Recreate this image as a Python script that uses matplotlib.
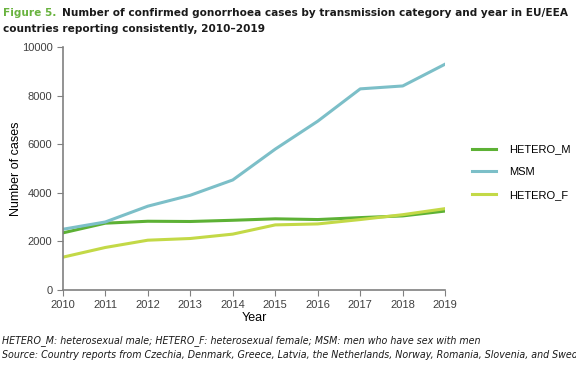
import matplotlib
matplotlib.use("Agg")
import matplotlib.pyplot as plt

years = [2010, 2011, 2012, 2013, 2014, 2015, 2016, 2017, 2018, 2019]
hetero_m = [2350, 2750, 2830, 2820, 2870, 2930, 2900, 2980, 3050, 3250]
msm = [2500, 2800, 3450, 3900, 4530, 5800, 6950, 8280, 8400, 9300]
hetero_f = [1350, 1750, 2050, 2120, 2300, 2680, 2720, 2900, 3100, 3350]
series_names = ["HETERO_M", "MSM", "HETERO_F"]
colors = ["#5db135", "#7cbfc8", "#c3d947"]

fig = plt.figure(figsize=(5.76, 3.65), dpi=100)
ax = fig.add_axes([0.109, 0.2055, 0.664, 0.6655])

for vals, name, c in zip([hetero_m, msm, hetero_f], series_names, colors):
    ax.plot(years, vals, color=c, lw=2.2, label=name)

ax.set_xlim(2010, 2019)
ax.set_ylim(0, 10000)
ax.set_xticks(years)
ax.set_yticks(range(0, 10001, 2000))
for s in ["top", "right"]:
    ax.spines[s].set_visible(False)
for s in ["left", "bottom"]:
    ax.spines[s].set_color("#808080")
    ax.spines[s].set_linewidth(1.2)
ax.tick_params(direction="out", length=4, color="#808080", labelsize=8, labelcolor="#404040")
for lab in ax.get_xticklabels() + ax.get_yticklabels():
    lab.set_family("Liberation Sans")
ax.set_xlabel("Year", fontsize=9, family="Liberation Sans", labelpad=1)
ax.set_ylabel("Number of cases", fontsize=9, family="Liberation Sans")
ax.yaxis.set_label_coords(-0.107, 0.5)

leg = ax.legend(loc="upper left", bbox_to_anchor=(1.045, 0.64), frameon=False,
                prop={"family": "Liberation Sans", "size": 8}, handlelength=2.1,
                labelspacing=1.15, handletextpad=1.2)

tfs = 7.6
t1 = fig.text(0.006, 0.955, "Figure 5.", color="#69b33f", fontsize=tfs, fontweight="bold", family="DejaVu Sans")
fig.canvas.draw()
bb = t1.get_window_extent()
x2 = (bb.x1 + 5) / fig.bbox.width
fig.text(x2, 0.955, "Number of confirmed gonorrhoea cases by transmission category and year in EU/EEA",
         color="#1a1a1a", fontsize=tfs, fontweight="bold", family="DejaVu Sans")
fig.text(0.006, 0.913, "countries reporting consistently, 2010\u20132019",
         color="#1a1a1a", fontsize=tfs, fontweight="bold", family="DejaVu Sans")

fig.text(0.004, 0.06, "HETERO_M: heterosexual male; HETERO_F: heterosexual female; MSM: men who have sex with men",
         fontsize=6.85, style="italic", color="#1a1a1a", family="DejaVu Sans")
fig.text(0.004, 0.018, "Source: Country reports from Czechia, Denmark, Greece, Latvia, the Netherlands, Norway, Romania, Slovenia, and Sweden",
         fontsize=6.85, style="italic", color="#1a1a1a", family="DejaVu Sans")

fig.savefig("out.png", dpi=100)
